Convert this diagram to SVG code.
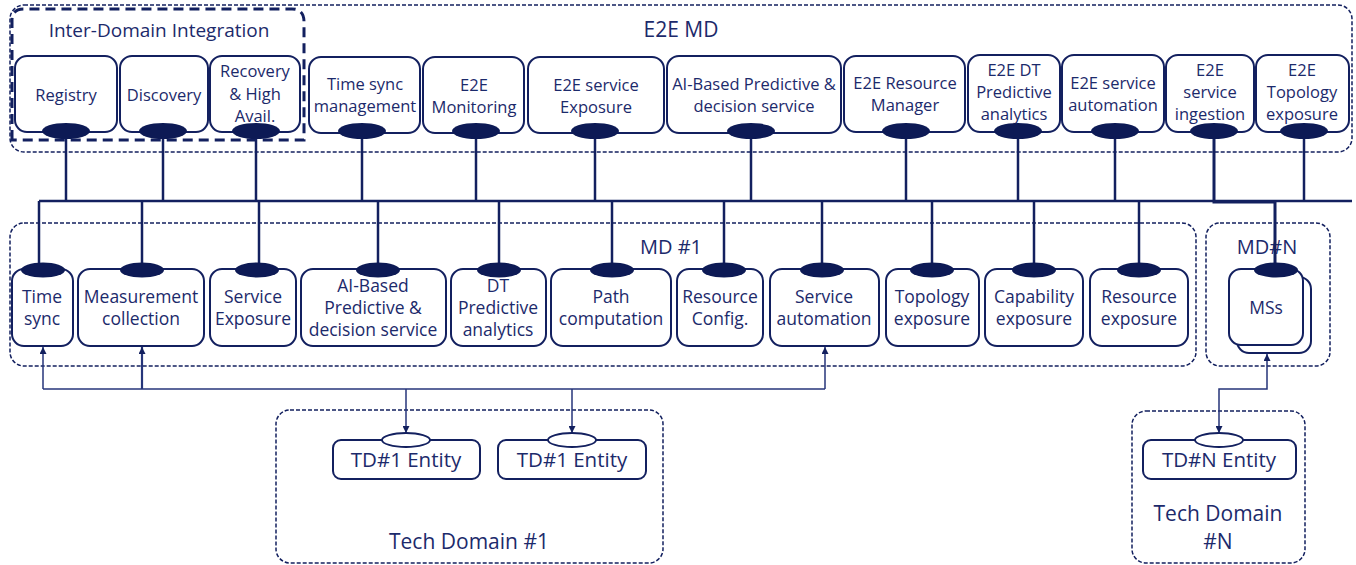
<svg xmlns="http://www.w3.org/2000/svg" width="1356" height="565" viewBox="0 0 1356 565">
<defs>
<style>
.bg{fill:#ffffff}
.node{fill:#ffffff;stroke:#13205f;stroke-width:2}
.dash{fill:none;stroke:#13205f;stroke-width:1.5;stroke-dasharray:4 2}
.thickdash{fill:none;stroke:#13205f;stroke-width:3;stroke-dasharray:10 6}
.port{fill:#0d1a55;stroke:none}
.oport{fill:#ffffff;stroke:#13205f;stroke-width:1.8}
.bus{fill:none;stroke:#13205f;stroke-width:2.5}
.thin{fill:none;stroke:#26357a;stroke-width:1.5}
text{font-family:"Open Sans","Liberation Sans",sans-serif;fill:#1c2a6b;text-anchor:middle}
.t{font-size:16.5px}
.b{font-size:17.5px}
.title{font-size:21px}
.sub{font-size:20px}
.ent{font-size:20.5px}
</style>
<marker id="arr" viewBox="0 0 10 10" refX="10" refY="5" markerWidth="7" markerHeight="7" markerUnits="userSpaceOnUse" orient="auto-start-reverse">
<path d="M0,0 L10,5 L0,10 z" fill="#13205f"/>
</marker>
</defs>
<rect class="bg" x="0" y="0" width="1356" height="565"/>

<!-- containers -->
<g id="e2e-md">
<rect class="dash" x="10" y="5" width="1342" height="147" rx="14"/>
<text class="title" x="681" y="37">E2E MD</text>
</g>
<g id="inter-domain">
<path class="thickdash" d="M12,140 V20 Q12,9 24,9 H292 Q304,9 304,22 V140 Z"/>
<text x="159" y="37" style="font-size:19px">Inter-Domain Integration</text>
</g>
<g id="md1">
<rect class="dash" x="10" y="223" width="1186" height="143" rx="14"/>
<text class="sub" x="671" y="254">MD #1</text>
</g>
<g id="mdn">
<rect class="dash" x="1206" y="223" width="124" height="143" rx="14"/>
<text class="sub" x="1267" y="254">MD#N</text>
</g>
<g id="td1">
<rect class="dash" x="276" y="410" width="387" height="153" rx="14"/>
<text class="title" x="469" y="549">Tech Domain #1</text>
</g>
<g id="tdn">
<rect class="dash" x="1132" y="411" width="173" height="152" rx="14"/>
<text class="title" x="1218" y="521">Tech Domain</text>
<text class="title" x="1218" y="549">#N</text>
</g>

<!-- connectors -->
<g id="connectors">
<line class="bus" x1="39" y1="201" x2="1352" y2="201"/>
<line class="bus" x1="66" y1="131" x2="66" y2="201"/>
<line class="bus" x1="163" y1="131" x2="163" y2="201"/>
<line class="bus" x1="256" y1="131" x2="256" y2="201"/>
<line class="bus" x1="362" y1="131" x2="362" y2="201"/>
<line class="bus" x1="476" y1="131" x2="476" y2="201"/>
<line class="bus" x1="595" y1="131" x2="595" y2="201"/>
<line class="bus" x1="751" y1="131" x2="751" y2="201"/>
<line class="bus" x1="906" y1="131" x2="906" y2="201"/>
<line class="bus" x1="1018" y1="131" x2="1018" y2="201"/>
<line class="bus" x1="1115" y1="131" x2="1115" y2="201"/>
<line class="bus" x1="1304" y1="131" x2="1304" y2="201"/>
<path class="bus" d="M1214,131 V202 H1275 V268" style="stroke-width:3"/>
<line class="bus" x1="39" y1="201" x2="39" y2="266"/>
<line class="bus" x1="142" y1="201" x2="142" y2="266"/>
<line class="bus" x1="259" y1="201" x2="259" y2="266"/>
<line class="bus" x1="378" y1="201" x2="378" y2="266"/>
<line class="bus" x1="499" y1="201" x2="499" y2="266"/>
<line class="bus" x1="612" y1="201" x2="612" y2="266"/>
<line class="bus" x1="724" y1="201" x2="724" y2="266"/>
<line class="bus" x1="822" y1="201" x2="822" y2="266"/>
<line class="bus" x1="932" y1="201" x2="932" y2="266"/>
<line class="bus" x1="1034" y1="201" x2="1034" y2="266"/>
<line class="bus" x1="1139" y1="201" x2="1139" y2="266"/>
<line class="thin" x1="43" y1="389" x2="825" y2="389"/>
<line class="thin" x1="43" y1="389" x2="43" y2="347" marker-end="url(#arr)"/>
<line class="thin" x1="142" y1="389" x2="142" y2="347" marker-end="url(#arr)" style="stroke-width:2.2"/>
<line class="thin" x1="825" y1="389" x2="825" y2="347" marker-end="url(#arr)"/>
<line class="thin" x1="406" y1="389" x2="406" y2="433" marker-end="url(#arr)"/>
<line class="thin" x1="572" y1="389" x2="572" y2="433" marker-end="url(#arr)"/>
<path class="thin" d="M1267,354 V389 H1219 V433" marker-start="url(#arr)" marker-end="url(#arr)"/>
</g>

<!-- top row nodes -->
<g id="registry"><rect class="node" x="15" y="56" width="102" height="76" rx="12"/><text class="t" x="66" y="101">Registry</text><ellipse class="port" cx="66" cy="131" rx="24" ry="8"/></g>
<g id="discovery"><rect class="node" x="120" y="56" width="88" height="76" rx="12"/><text class="t" x="164" y="101">Discovery</text><ellipse class="port" cx="163" cy="131" rx="24" ry="8"/></g>
<g id="recovery"><rect class="node" x="210" y="56" width="90" height="76" rx="12"/><text class="t" x="255" y="77">Recovery</text><text class="t" x="255" y="100">&amp; High</text><text class="t" x="255" y="122">Avail.</text><ellipse class="port" cx="256" cy="131" rx="24" ry="8"/></g>
<g id="time-sync-mgmt"><rect class="node" x="309" y="57" width="111" height="76" rx="12"/><text class="t" x="365" y="90">Time sync</text><text class="t" x="365" y="112">management</text><ellipse class="port" cx="362" cy="131" rx="24" ry="8"/></g>
<g id="e2e-monitoring"><rect class="node" x="423" y="57" width="101" height="76" rx="12"/><text class="t" x="474" y="91">E2E</text><text class="t" x="474" y="113">Monitoring</text><ellipse class="port" cx="476" cy="131" rx="24" ry="8"/></g>
<g id="e2e-service-exposure"><rect class="node" x="528" y="57" width="136" height="76" rx="12"/><text class="t" x="596" y="91">E2E service</text><text class="t" x="596" y="113">Exposure</text><ellipse class="port" cx="595" cy="131" rx="24" ry="8"/></g>
<g id="ai-based-top"><rect class="node" x="667" y="56" width="174" height="77" rx="12"/><text class="t" x="754" y="90">AI-Based Predictive &amp;</text><text class="t" x="754" y="112">decision service</text><ellipse class="port" cx="751" cy="131" rx="24" ry="8"/></g>
<g id="e2e-resource-manager"><rect class="node" x="844" y="56" width="121" height="76" rx="12"/><text class="t" x="905" y="89">E2E Resource</text><text class="t" x="905" y="111">Manager</text><ellipse class="port" cx="906" cy="131" rx="24" ry="8"/></g>
<g id="e2e-dt"><rect class="node" x="968" y="55" width="92" height="77" rx="12"/><text class="t" x="1014" y="76">E2E DT</text><text class="t" x="1014" y="98">Predictive</text><text class="t" x="1014" y="120">analytics</text><ellipse class="port" cx="1018" cy="131" rx="24" ry="8"/></g>
<g id="e2e-service-automation"><rect class="node" x="1062" y="55" width="102" height="77" rx="12"/><text class="t" x="1113" y="89">E2E service</text><text class="t" x="1113" y="111">automation</text><ellipse class="port" cx="1115" cy="131" rx="24" ry="8"/></g>
<g id="e2e-service-ingestion"><rect class="node" x="1166" y="55" width="88" height="77" rx="12"/><text class="t" x="1210" y="76">E2E</text><text class="t" x="1210" y="98">service</text><text class="t" x="1210" y="120">ingestion</text><ellipse class="port" cx="1214" cy="131" rx="24" ry="8"/></g>
<g id="e2e-topology"><rect class="node" x="1256" y="55" width="93" height="77" rx="12"/><text class="t" x="1302" y="76">E2E</text><text class="t" x="1302" y="98">Topology</text><text class="t" x="1302" y="120">exposure</text><ellipse class="port" cx="1304" cy="131" rx="24" ry="8"/></g>

<!-- MD#1 nodes -->
<g id="time-sync"><rect class="node" x="12" y="269" width="61" height="77" rx="12"/><text class="b" x="42" y="303">Time</text><text class="b" x="42" y="325">sync</text><ellipse class="port" cx="43" cy="270" rx="22" ry="7.5"/></g>
<g id="measurement"><rect class="node" x="78" y="269" width="126" height="77" rx="12"/><text class="b" x="141" y="303">Measurement</text><text class="b" x="141" y="325">collection</text><ellipse class="port" cx="142" cy="270" rx="22" ry="7.5"/></g>
<g id="service-exposure"><rect class="node" x="210" y="269" width="86" height="77" rx="12"/><text class="b" x="253" y="303">Service</text><text class="b" x="253" y="325">Exposure</text><ellipse class="port" cx="257" cy="270" rx="22" ry="7.5"/></g>
<g id="ai-based"><rect class="node" x="301" y="269" width="145" height="77" rx="12"/><text class="b" x="373" y="292">AI-Based</text><text class="b" x="373" y="314">Predictive &amp;</text><text class="b" x="373" y="336">decision service</text><ellipse class="port" cx="378" cy="270" rx="22" ry="7.5"/></g>
<g id="dt-predictive"><rect class="node" x="451" y="269" width="95" height="77" rx="12"/><text class="b" x="498" y="292">DT</text><text class="b" x="498" y="314">Predictive</text><text class="b" x="498" y="336">analytics</text><ellipse class="port" cx="499" cy="270" rx="22" ry="7.5"/></g>
<g id="path-computation"><rect class="node" x="551" y="269" width="120" height="77" rx="12"/><text class="b" x="611" y="303">Path</text><text class="b" x="611" y="325">computation</text><ellipse class="port" cx="612" cy="270" rx="22" ry="7.5"/></g>
<g id="resource-config"><rect class="node" x="677" y="269" width="86" height="77" rx="12"/><text class="b" x="720" y="303">Resource</text><text class="b" x="720" y="325">Config.</text><ellipse class="port" cx="724" cy="270" rx="22" ry="7.5"/></g>
<g id="service-automation"><rect class="node" x="770" y="269" width="109" height="77" rx="12"/><text class="b" x="824" y="303">Service</text><text class="b" x="824" y="325">automation</text><ellipse class="port" cx="822" cy="270" rx="22" ry="7.5"/></g>
<g id="topology-exposure"><rect class="node" x="886" y="269" width="93" height="77" rx="12"/><text class="b" x="932" y="303">Topology</text><text class="b" x="932" y="325">exposure</text><ellipse class="port" cx="932" cy="270" rx="22" ry="7.5"/></g>
<g id="capability-exposure"><rect class="node" x="985" y="269" width="98" height="77" rx="12"/><text class="b" x="1034" y="303">Capability</text><text class="b" x="1034" y="325">exposure</text><ellipse class="port" cx="1034" cy="270" rx="22" ry="7.5"/></g>
<g id="resource-exposure"><rect class="node" x="1090" y="269" width="98" height="77" rx="12"/><text class="b" x="1139" y="303">Resource</text><text class="b" x="1139" y="325">exposure</text><ellipse class="port" cx="1139" cy="270" rx="22" ry="7.5"/></g>

<!-- MD#N node -->
<g id="mss"><rect class="node" x="1237" y="277" width="74" height="76" rx="12"/><rect class="node" x="1229" y="269" width="74" height="76" rx="12"/><text class="b" x="1266" y="314">MSs</text><ellipse class="port" cx="1276" cy="270" rx="22" ry="7.5"/></g>

<!-- tech domain entities -->
<g id="td1-entity-a"><rect class="node" x="333" y="440" width="147" height="39" rx="8"/><text class="ent" x="406" y="467">TD#1 Entity</text><ellipse class="oport" cx="406" cy="440" rx="24" ry="7"/></g>
<g id="td1-entity-b"><rect class="node" x="498" y="440" width="148" height="39" rx="8"/><text class="ent" x="572" y="467">TD#1 Entity</text><ellipse class="oport" cx="572" cy="440" rx="24" ry="7"/></g>
<g id="tdn-entity"><rect class="node" x="1143" y="440" width="153" height="39" rx="8"/><text class="ent" x="1219" y="467">TD#N Entity</text><ellipse class="oport" cx="1219" cy="440" rx="24" ry="7"/></g>
</svg>
